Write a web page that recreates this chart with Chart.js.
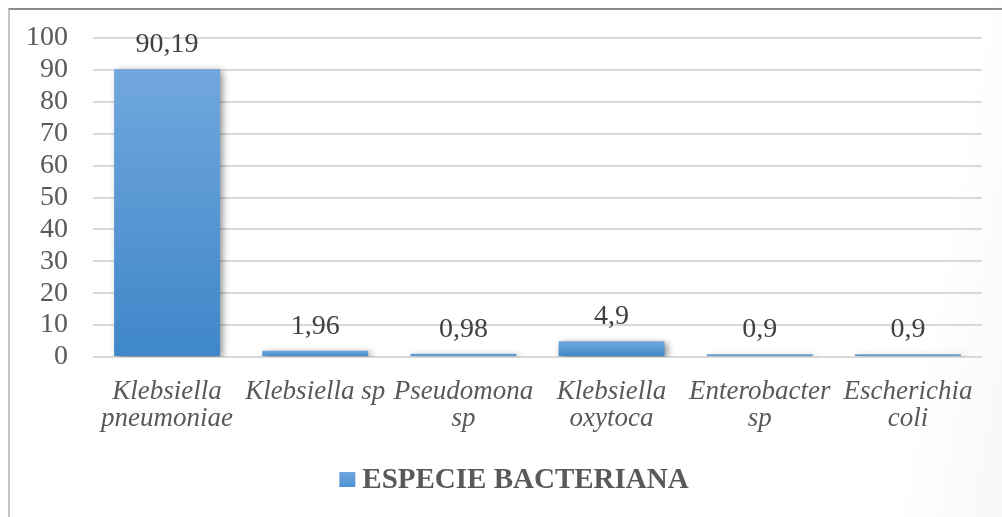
<!DOCTYPE html>
<html>
<head>
<meta charset="utf-8">
<script src="https://cdn.jsdelivr.net/npm/chart.js@4"></script>
<style>
  html, body { margin: 0; padding: 0; width: 1002px; height: 517px; overflow: hidden;
    background: linear-gradient(100deg, #ffffff 90%, #f7f7f7 100%); }
  #frame { position: absolute; left: 8px; top: 8px; right: 0; bottom: 0;
    border-top: 2px solid #8c8c8c; border-left: 2px solid #c4c4c4; }
  #wrap { position: absolute; left: 0; top: 0; width: 1002px; height: 517px; }
</style>
</head>
<body>
<div id="frame"></div>
<div id="wrap"><canvas id="c"></canvas></div>
<script>
// Species categories (multi-line labels as arrays)
const categories = [
  ['Klebsiella', 'pneumoniae'],
  'Klebsiella sp',
  ['Pseudomona', 'sp'],
  ['Klebsiella', 'oxytoca'],
  ['Enterobacter', 'sp'],
  ['Escherichia', 'coli']
];
// Percentage per species
const percentages = [90.19, 1.96, 0.98, 4.9, 0.9, 0.9];
const seriesName = 'ESPECIE BACTERIANA';
const yTicks = { min: 0, max: 100, step: 10 };

const FONT = "'Liberation Serif', 'Times New Roman', serif";
Chart.defaults.font.family = FONT;

const BLUE_LIGHT = '#71a7de';
const BLUE_DARK = '#3f87c9';

// Vertical light-to-dark blue fill for each bar
function barFill(context) {
  const chart = context.chart;
  const area = chart.chartArea;
  if (!area || context.parsed == null) return '#5b9bd5';
  const y = chart.scales.y;
  const top = y.getPixelForValue(context.parsed.y);
  const base = y.getPixelForValue(0);
  const g = chart.ctx.createLinearGradient(0, top, 0, Math.max(base, top + 1));
  g.addColorStop(0, BLUE_LIGHT);
  g.addColorStop(1, BLUE_DARK);
  return g;
}

// Soft drop shadow behind the bars
const barShadow = {
  id: 'barShadow',
  beforeDatasetsDraw(chart) {
    const ctx = chart.ctx;
    ctx.save();
    ctx.shadowColor = 'rgba(0,0,0,0.45)';
    ctx.shadowBlur = 7;
    ctx.shadowOffsetX = 3;
    ctx.shadowOffsetY = 2;
  },
  afterDatasetsDraw(chart) {
    chart.ctx.restore();
  }
};

// Value labels above each bar, decimal comma
const valueLabels = {
  id: 'valueLabels',
  afterDraw(chart) {
    const ctx = chart.ctx;
    ctx.save();
    ctx.font = '28px ' + FONT;
    ctx.fillStyle = '#404040';
    ctx.textAlign = 'center';
    ctx.textBaseline = 'alphabetic';
    chart.getDatasetMeta(0).data.forEach((bar, i) => {
      const txt = String(percentages[i]).replace('.', ',');
      ctx.fillText(txt, bar.x, bar.y - 17);
    });
    ctx.restore();
  }
};

// Series key under the axis: gradient square + bold series name
const seriesKey = {
  id: 'seriesKey',
  afterDraw(chart) {
    const ctx = chart.ctx;
    const ds = chart.data.datasets[0];
    ctx.save();
    ctx.font = 'bold 29px ' + FONT;
    const tw = ctx.measureText(ds.label).width;
    const box = 16, gap = 7;
    const total = box + gap + tw;
    const cx = chart.width / 2 + 13;
    const x0 = cx - total / 2;
    const cy = chart.chartArea.bottom + 123;
    const g = ctx.createLinearGradient(0, cy - box / 2, 0, cy + box / 2);
    g.addColorStop(0, BLUE_LIGHT);
    g.addColorStop(1, '#4a90d2');
    ctx.fillStyle = g;
    ctx.fillRect(x0, cy - box / 2, box, box - 1);
    ctx.fillStyle = '#595959';
    ctx.textAlign = 'left';
    ctx.textBaseline = 'middle';
    ctx.fillText(ds.label, x0 + box + gap, cy + 1);
    ctx.restore();
  }
};

new Chart(document.getElementById('c'), {
  type: 'bar',
  data: {
    labels: categories,
    datasets: [{
      label: seriesName,
      data: percentages,
      backgroundColor: barFill,
      borderWidth: 0,
      categoryPercentage: 1,
      barPercentage: 0.715
    }]
  },
  options: {
    responsive: true,
    maintainAspectRatio: false,
    animation: false,
    layout: { padding: { left: 0, right: 20, top: 38, bottom: 60 } },
    scales: {
      x: {
        grid: { display: false },
        border: { display: false },
        ticks: {
          color: '#595959',
          font: { size: 27, style: 'italic', lineHeight: 1.0 },
          padding: 13,
          maxRotation: 0,
          autoSkip: false
        },
        afterFit(scale) {
          scale.height = 100;
          scale.paddingLeft = 0; scale.paddingRight = 0;
          scale.paddingTop = 0; scale.paddingBottom = 0;
        }
      },
      y: {
        min: yTicks.min,
        max: yTicks.max,
        grid: { color: '#d9d9d9', lineWidth: 2, drawTicks: false },
        border: { display: false },
        ticks: {
          stepSize: yTicks.step,
          autoSkip: false,
          color: '#595959',
          font: { size: 28 },
          padding: 25
        },
        afterFit(scale) {
          scale.width = 93;
          scale.paddingLeft = 0; scale.paddingRight = 0;
          scale.paddingTop = 0; scale.paddingBottom = 0;
        }
      }
    },
    plugins: {
      tooltip: { enabled: false },
      legend: { display: false }
    }
  },
  plugins: [barShadow, valueLabels, seriesKey]
});
</script>
</body>
</html>
